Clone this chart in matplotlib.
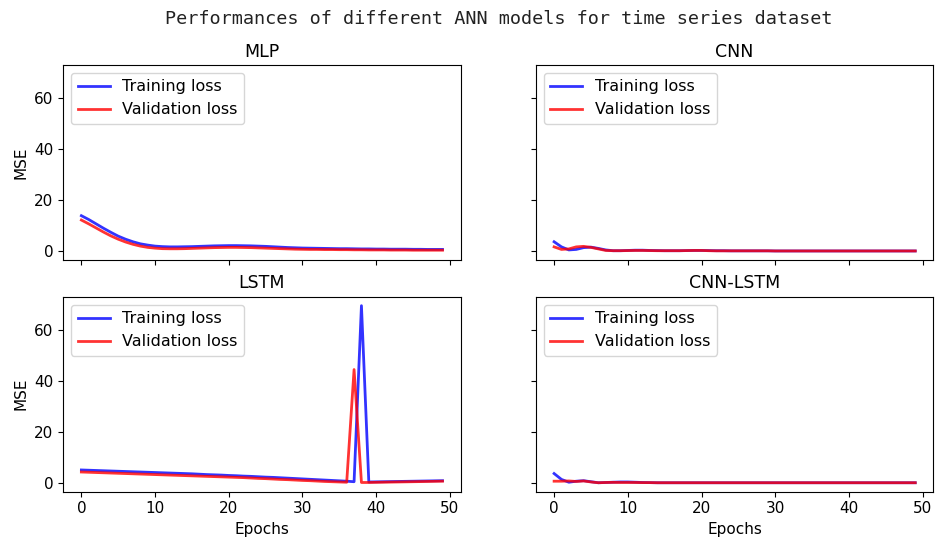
import matplotlib
matplotlib.use("Agg")
import matplotlib.pyplot as plt
import numpy as np

epochs = list(range(50))

mlp_train = [14.0, 12.5, 10.8, 9.1, 7.5, 6.0, 4.8, 3.8, 3.0, 2.5,
             2.1, 1.9, 1.8, 1.8, 1.85, 1.9, 2.0, 2.1, 2.2, 2.25,
             2.3, 2.3, 2.25, 2.2, 2.1, 2.0, 1.85, 1.7, 1.55, 1.45,
             1.35, 1.3, 1.25, 1.2, 1.15, 1.1, 1.1, 1.05, 1.0, 1.0,
             0.95, 0.95, 0.9, 0.9, 0.9, 0.85, 0.85, 0.8, 0.8, 0.8]
mlp_val = [12.3, 10.8, 9.2, 7.6, 6.1, 4.8, 3.7, 2.8, 2.1, 1.6,
           1.3, 1.1, 1.05, 1.05, 1.1, 1.2, 1.3, 1.4, 1.5, 1.55,
           1.6, 1.6, 1.55, 1.5, 1.4, 1.3, 1.2, 1.1, 1.0, 0.9,
           0.85, 0.8, 0.8, 0.75, 0.75, 0.7, 0.7, 0.65, 0.65, 0.6,
           0.6, 0.6, 0.55, 0.55, 0.55, 0.5, 0.5, 0.5, 0.5, 0.5]

cnn_train = [3.8, 1.8, 0.6, 0.8, 1.5, 1.7, 1.2, 0.6, 0.3, 0.3,
             0.4, 0.5, 0.5, 0.4, 0.35, 0.3, 0.3, 0.3, 0.35, 0.4,
             0.4, 0.35, 0.3, 0.3, 0.25, 0.25, 0.25, 0.25, 0.25, 0.25,
             0.2, 0.2, 0.2, 0.2, 0.2, 0.2, 0.2, 0.2, 0.2, 0.2,
             0.2, 0.2, 0.2, 0.2, 0.2, 0.2, 0.2, 0.2, 0.2, 0.2]
cnn_val = [1.8, 0.8, 1.0, 1.8, 2.0, 1.6, 1.0, 0.4, 0.3, 0.3,
           0.35, 0.4, 0.4, 0.35, 0.3, 0.3, 0.3, 0.3, 0.35, 0.4,
           0.4, 0.3, 0.25, 0.25, 0.25, 0.25, 0.25, 0.25, 0.25, 0.25,
           0.2, 0.2, 0.2, 0.2, 0.2, 0.2, 0.2, 0.2, 0.2, 0.2,
           0.2, 0.2, 0.2, 0.2, 0.2, 0.2, 0.2, 0.2, 0.2, 0.2]

lstm_train = [5.2, 5.1, 5.0, 4.9, 4.8, 4.7, 4.6, 4.5, 4.4, 4.3,
              4.2, 4.1, 4.0, 3.9, 3.8, 3.7, 3.55, 3.4, 3.3, 3.2,
              3.05, 2.95, 2.8, 2.7, 2.55, 2.4, 2.3, 2.15, 2.0, 1.85,
              1.7, 1.55, 1.4, 1.25, 1.1, 0.95, 0.8, 0.6, 69.5, 0.5,
              0.55, 0.6, 0.65, 0.7, 0.75, 0.8, 0.85, 0.9, 0.95, 1.0]
lstm_val = [4.4, 4.3, 4.2, 4.1, 4.0, 3.9, 3.8, 3.7, 3.6, 3.5,
            3.4, 3.3, 3.2, 3.1, 3.0, 2.9, 2.8, 2.7, 2.6, 2.5,
            2.4, 2.3, 2.2, 2.05, 1.9, 1.8, 1.65, 1.5, 1.4, 1.25,
            1.1, 1.0, 0.85, 0.7, 0.6, 0.5, 0.4, 44.5, 0.3, 0.3,
            0.35, 0.4, 0.45, 0.5, 0.55, 0.6, 0.65, 0.7, 0.75, 0.8]

cnnlstm_train = [3.8, 1.5, 0.4, 0.8, 1.0, 0.6, 0.2, 0.3, 0.4, 0.5,
                 0.5, 0.4, 0.3, 0.25, 0.2, 0.2, 0.2, 0.2, 0.2, 0.2,
                 0.2, 0.2, 0.2, 0.2, 0.2, 0.2, 0.2, 0.2, 0.2, 0.2,
                 0.2, 0.2, 0.2, 0.2, 0.2, 0.2, 0.2, 0.2, 0.2, 0.2,
                 0.2, 0.2, 0.2, 0.2, 0.2, 0.2, 0.2, 0.2, 0.2, 0.2]
cnnlstm_val = [0.8, 0.8, 0.9, 0.7, 0.9, 0.5, 0.2, 0.3, 0.35, 0.3,
               0.3, 0.3, 0.25, 0.25, 0.2, 0.2, 0.2, 0.2, 0.2, 0.2,
               0.2, 0.2, 0.2, 0.2, 0.2, 0.2, 0.2, 0.2, 0.2, 0.2,
               0.2, 0.2, 0.2, 0.2, 0.2, 0.2, 0.2, 0.2, 0.2, 0.2,
               0.2, 0.2, 0.2, 0.2, 0.2, 0.2, 0.2, 0.2, 0.2, 0.2]

model_names = ["MLP", "CNN", "LSTM", "CNN-LSTM"]
train_series = [mlp_train, cnn_train, lstm_train, cnnlstm_train]
val_series = [mlp_val, cnn_val, lstm_val, cnnlstm_val]

fig, axes = plt.subplots(2, 2, figsize=(9.38, 5.42), dpi=100, sharex=True, sharey=True)
fig.subplots_adjust(left=0.0675, right=0.995, top=0.88, bottom=0.093, wspace=0.19, hspace=0.19)

for ax, name, tr, va in zip(axes.flat, model_names, train_series, val_series):
    ax.plot(epochs, tr, color="blue", alpha=0.8, lw=2, label="Training loss")
    ax.plot(epochs, va, color="red", alpha=0.8, lw=2, label="Validation loss")
    ax.set_title(name, fontsize=12.5)
    ax.legend(loc="upper left", fontsize=11.5)
    ax.tick_params(labelsize=11)

axes[0, 0].set_ylabel("MSE", fontsize=11)
axes[1, 0].set_ylabel("MSE", fontsize=11)
axes[1, 0].set_xlabel("Epochs", fontsize=11)
axes[1, 1].set_xlabel("Epochs", fontsize=11)
axes[0, 0].set_yticks([0, 20, 40, 60])
axes[0, 0].set_xticks([0, 10, 20, 30, 40, 50])

fig.suptitle("Performances of different ANN models for time series dataset",
             fontsize=13.3, family="DejaVu Sans Mono", color="#222222",
             x=0.532, y=0.982)

fig.savefig("out.png", dpi=100)
